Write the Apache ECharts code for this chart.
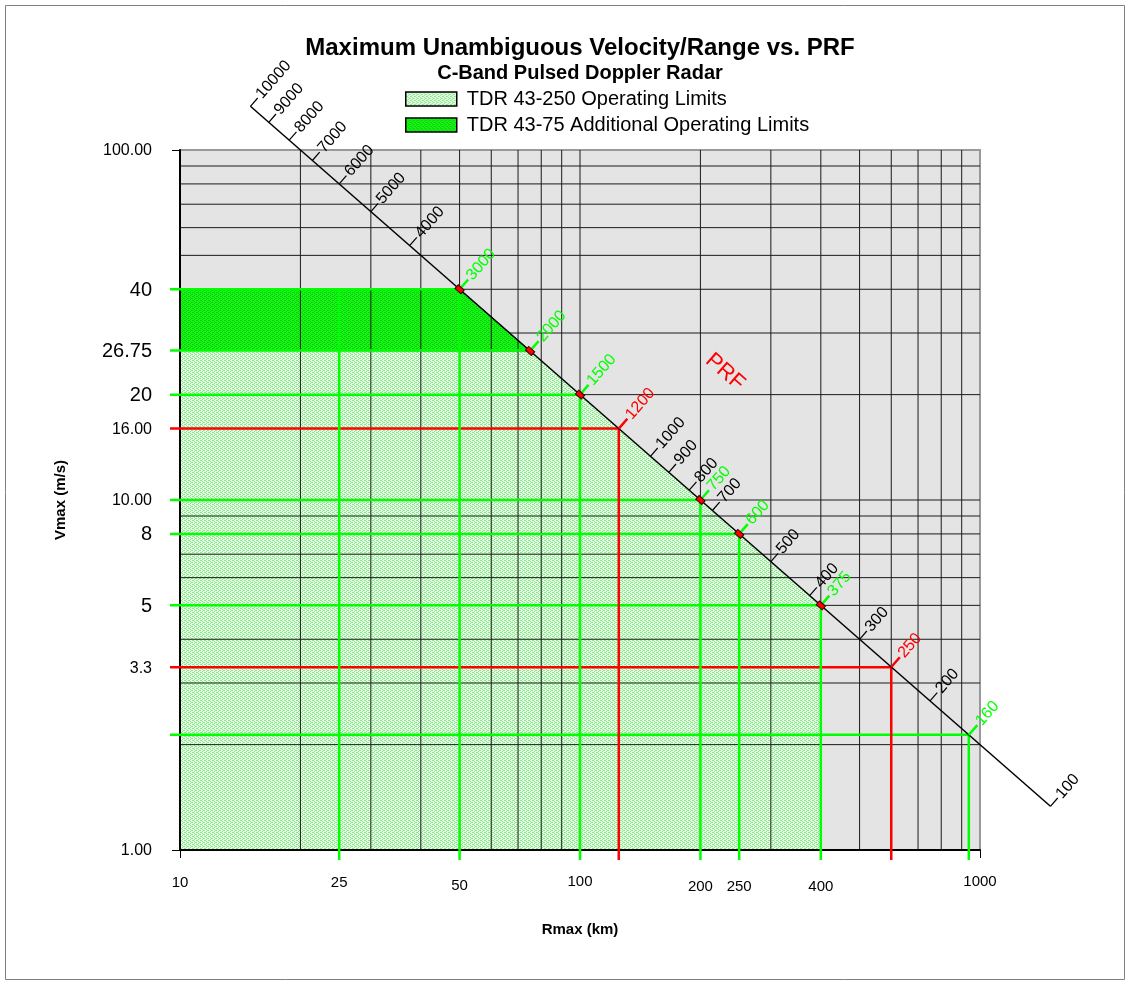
<!DOCTYPE html>
<html>
<head>
<meta charset="utf-8">
<script src="https://cdn.jsdelivr.net/npm/echarts@6/dist/echarts.min.js"></script>
<style>
html, body { margin: 0; padding: 0; background: #fff; }
#chart { width: 1130px; height: 984px; }
</style>
</head>
<body>
<div id="chart"></div>
<script>
// PRF scale marked along the diagonal (Hz)
const prfTicks = [10000, 9000, 8000, 7000, 6000, 5000, 4000, 3000, 2000, 1500, 1200, 1000, 900, 800, 750, 700, 600, 500, 400, 375, 300, 250, 200, 160, 100];
const prfGreen = [3000, 2000, 1500, 750, 600, 375, 160];
const prfRed = [1200, 250];
const prfMarked = [3000, 2000, 1500, 750, 600, 375];

// C-band radar: Rmax = c / (2 PRF), Vmax = lambda * PRF / 4
const C_KM = 300000;
const LAMBDA_M = 0.05333;

// operating limit lines (horizontal: Vmax up to Rmax, vertical: Rmax down from Vmax)
const hLineV = [40, 26.75, 20, 16, 10, 8, 5, 3.33, 2.133];
const hLineR = [50, 75, 100, 125, 200, 250, 400, 600, 937.5];
const hLineKind = ['g', 'g', 'g', 'r', 'g', 'g', 'g', 'r', 'g'];
const vLineR = [25, 50, 100, 125, 200, 250, 400, 600, 937.5];
const vLineV = [40, 40, 20, 16, 10, 8, 5, 3.33, 2.133];
const vLineKind = ['g', 'g', 'g', 'r', 'g', 'g', 'g', 'r', 'g'];

// shaded areas, [Rmax, Vmax]
const area250 = [[10, 1], [400, 1], [400, 5], [75, 26.67], [10, 26.75]];
const area75 = [[10, 26.75], [75, 26.67], [50, 40], [10, 40]];

// log grid lines
const gridR = [20, 30, 40, 50, 60, 70, 80, 90, 100, 200, 300, 400, 500, 600, 700, 800, 900];
const gridV = [2, 3, 4, 5, 6, 7, 8, 9, 10, 20, 30, 40, 50, 60, 70, 80, 90];

// tick labels
const xTickVals = [10, 25, 50, 100, 200, 250, 400, 1000];
const yTickVals = [100, 40, 26.75, 20, 16, 10, 8, 5, 3.33, 1];
const yTickText = ['100.00', '40', '26.75', '20', '16.00', '10.00', '8', '5', '3.3', '1.00'];

const R_MIN = 10, R_MAX = 1000, V_MIN = 1, V_MAX = 100;
const FONT = '"Liberation Sans", Arial, sans-serif';
const GREEN = '#00ff00', RED = '#ff0000', GRID_COLOR = '#1a1a1a';
const kindColor = { g: GREEN, r: RED };
const yBig = ['40', '26.75', '20', '8', '5'];
const xLabelDy = [33, 33, 36, 32, 37, 37, 37, 32];

function rangeOf(prf) { return C_KM / (2 * prf); }
function velOf(prf) { return LAMBDA_M * prf / 4; }

function makePattern(bg, dot) {
	const c = document.createElement('canvas');
	c.width = 4; c.height = 4;
	const g = c.getContext('2d');
	g.fillStyle = bg; g.fillRect(0, 0, 4, 4);
	g.fillStyle = dot;
	[[0, 0], [2, 1], [0, 2], [2, 3], [1, 0], [3, 2]].forEach(p => g.fillRect(p[0], p[1], 1, 1));
	return c;
}
const lightFill = { image: makePattern('#e6fce6', '#86e886'), repeat: 'repeat' };
const darkFill = { image: makePattern('#14f814', '#10cc10'), repeat: 'repeat' };

function lineEl(p0, p1, color, w) {
	return { type: 'line', shape: { x1: p0[0], y1: p0[1], x2: p1[0], y2: p1[1] }, style: { stroke: color, lineWidth: w } };
}

function areaSeries(name, pts, fill, z, edge) {
	return {
		type: 'custom', name: name, z: z, silent: true,
		itemStyle: { color: fill },
		data: [pts[0]],
		renderItem: (params, api) => ({
			type: 'polygon',
			shape: { points: pts.map(p => api.coord(p)) },
			style: { fill: fill, stroke: edge, lineWidth: 1 }
		})
	};
}

const chart = echarts.init(document.getElementById('chart'));
const option = {
	animation: false,
	backgroundColor: '#fff',
	title: {
		text: 'Maximum Unambiguous Velocity/Range vs. PRF',
		subtext: 'C-Band Pulsed Doppler Radar',
		left: 580, top: 36, padding: 0, itemGap: 3,
		textAlign: 'center',
		textStyle: { fontFamily: FONT, fontSize: 24, fontWeight: 'bold', color: '#000' },
		subtextStyle: { fontFamily: FONT, fontSize: 20, fontWeight: 'bold', color: '#000' }
	},
	legend: {
		orient: 'vertical', left: 405, top: 89, padding: 0, itemGap: 6,
		itemWidth: 51, itemHeight: 14, icon: 'rect',
		itemStyle: { borderColor: '#000', borderWidth: 1.5 },
		textStyle: { fontFamily: FONT, fontSize: 20, color: '#000', padding: [0, 0, 0, 5] },
		data: ['TDR 43-250 Operating Limits', 'TDR 43-75 Additional Operating Limits']
	},
	grid: {
		left: 180, top: 150, width: 800, height: 700,
		show: true, backgroundColor: '#e4e4e4', borderColor: '#999', borderWidth: 2,
		outerBoundsMode: 'none', containLabel: false
	},
	xAxis: {
		type: 'log', logBase: 10, min: R_MIN, max: R_MAX, z: 5,
		name: 'Rmax (km)', nameLocation: 'middle', nameGap: 72,
		nameTextStyle: { fontFamily: FONT, fontSize: 15, fontWeight: 'bold', color: '#000' },
		axisLine: { onZero: false, lineStyle: { color: '#000', width: 2 } },
		axisTick: { show: true, length: 8, lineStyle: { color: '#000', width: 1 } },
		axisLabel: { show: false },
		splitLine: { show: false }, minorTick: { show: false }
	},
	yAxis: {
		type: 'log', logBase: 10, min: V_MIN, max: V_MAX, z: 5,
		name: 'Vmax (m/s)', nameLocation: 'middle', nameGap: 112,
		nameTextStyle: { fontFamily: FONT, fontSize: 15, fontWeight: 'bold', color: '#000' },
		axisLine: { onZero: false, lineStyle: { color: '#000', width: 2 } },
		axisTick: { show: true, length: 8, lineStyle: { color: '#000', width: 1 } },
		axisLabel: { show: false },
		splitLine: { show: false }, minorTick: { show: false }
	},
	graphic: [
		{ type: 'rect', x: 5.5, y: 5.5, z: -10, silent: true, shape: { width: 1119, height: 974 }, style: { fill: 'none', stroke: '#808080', lineWidth: 1 } },
		{ type: 'text', x: 725, y: 372, rotation: -0.72, z: 100, style: { text: 'PRF', fill: RED, font: '22px ' + FONT, align: 'center', verticalAlign: 'middle' } }
	],
	series: [
		areaSeries('TDR 43-250 Operating Limits', area250, lightFill, 2, 'none'),
		{
			type: 'custom', z: 3, silent: true,
			data: gridV.map(v => [R_MIN, v]),
			renderItem: (params, api) => lineEl(api.coord([R_MIN, api.value(1)]), api.coord([R_MAX, api.value(1)]), GRID_COLOR, 1)
		},
		areaSeries('TDR 43-75 Additional Operating Limits', area75, darkFill, 4, '#000'),
		{
			type: 'custom', z: 5, silent: true,
			data: gridR.map(r => [r, V_MIN]),
			renderItem: (params, api) => lineEl(api.coord([api.value(0), V_MIN]), api.coord([api.value(0), V_MAX]), GRID_COLOR, 1)
		},
		{
			type: 'custom', z: 6, silent: true, clip: false,
			data: hLineV.map((v, i) => [hLineR[i], v, i]),
			renderItem: (params, api) => {
				const a = api.coord([R_MIN, api.value(1)]);
				const b = api.coord([api.value(0), api.value(1)]);
				return lineEl([a[0] - 10, a[1]], b, kindColor[hLineKind[api.value(2)]], 2.5);
			}
		},
		{
			type: 'custom', z: 6, silent: true, clip: false,
			data: vLineR.map((r, i) => [r, vLineV[i], i]),
			renderItem: (params, api) => {
				const a = api.coord([api.value(0), api.value(1)]);
				const b = api.coord([api.value(0), V_MIN]);
				return lineEl(a, [b[0], b[1] + 10], kindColor[vLineKind[api.value(2)]], 2.5);
			}
		},
		{
			// the PRF diagonal, first to last tick
			type: 'custom', z: 7, silent: true, clip: false,
			data: [[rangeOf(prfTicks[0]), velOf(prfTicks[0]), rangeOf(prfTicks[prfTicks.length - 1]), velOf(prfTicks[prfTicks.length - 1])]],
			renderItem: (params, api) => lineEl(api.coord([api.value(0), api.value(1)]), api.coord([api.value(2), api.value(3)]), '#000', 1.5)
		},
		{
			type: 'custom', z: 8, silent: true, clip: false,
			data: prfTicks.map(f => [rangeOf(f), velOf(f), f]),
			renderItem: (params, api) => {
				const f = api.value(2);
				const p = api.coord([api.value(0), api.value(1)]);
				const q = api.coord([api.value(0) * 2, api.value(1) / 2]);
				let dx = q[0] - p[0], dy = q[1] - p[1];
				const L = Math.hypot(dx, dy); dx /= L; dy /= L;
				const nx = dy, ny = -dx;
				const color = prfGreen.includes(f) ? GREEN : (prfRed.includes(f) ? RED : '#000');
				const hi = color !== '#000';
				const len = hi ? 13 : 11;
				const children = [lineEl(p, [p[0] + nx * len, p[1] + ny * len], color, hi ? 2.5 : 1.2)];
				if (prfMarked.includes(f)) {
					children.push({ type: 'rect', x: p[0], y: p[1], rotation: Math.atan2(-dy, dx), shape: { x: -4, y: -2.5, width: 8, height: 5 }, style: { fill: RED, stroke: '#300', lineWidth: 1 } });
				}
				children.push({
					type: 'text', x: p[0] + nx * (len + 2), y: p[1] + ny * (len + 2), rotation: Math.atan2(-ny, nx),
					style: { text: String(f), fill: color, font: '16px ' + FONT, align: 'left', verticalAlign: 'middle' }
				});
				return { type: 'group', children: children };
			}
		},
		{
			type: 'custom', z: 9, silent: true, clip: false,
			data: yTickVals.map((v, i) => [R_MIN, v, i]),
			renderItem: (params, api) => {
				const i = api.value(2);
				const p = api.coord([R_MIN, api.value(1)]);
				const big = yBig.includes(yTickText[i]);
				return { type: 'text', x: p[0] - 28, y: p[1] + 1, style: { text: yTickText[i], fill: '#000', font: (big ? 20 : 16) + 'px ' + FONT, align: 'right', verticalAlign: 'middle' } };
			}
		},
		{
			type: 'custom', z: 9, silent: true, clip: false,
			data: xTickVals.map((v, i) => [v, V_MIN, i]),
			renderItem: (params, api) => {
				const i = api.value(2);
				const p = api.coord([api.value(0), V_MIN]);
				return { type: 'text', x: p[0], y: p[1] + xLabelDy[i], style: { text: String(xTickVals[i]), fill: '#000', font: '15px ' + FONT, align: 'center', verticalAlign: 'middle' } };
			}
		}
	]
};
chart.setOption(option);
</script>
</body>
</html>
